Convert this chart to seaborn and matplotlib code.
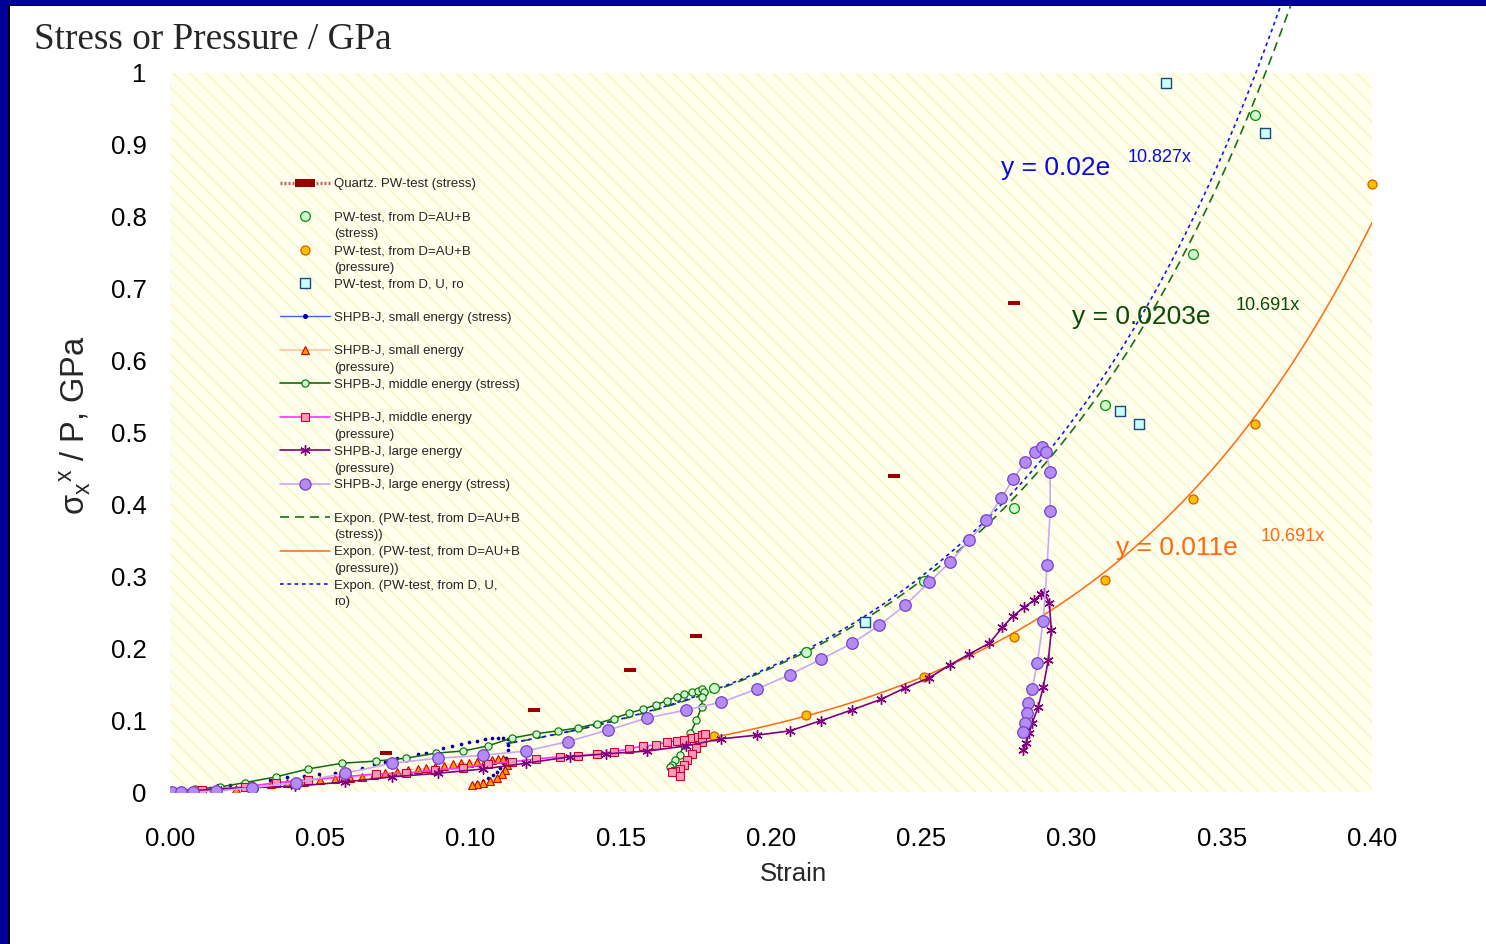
import numpy as np
import matplotlib
matplotlib.use("Agg")
import matplotlib.pyplot as plt
from matplotlib.lines import Line2D
from matplotlib.patches import Rectangle
import seaborn as sns

# ---------------- data ----------------
quartz_x = [0.072, 0.121, 0.153, 0.175, 0.241, 0.281]
quartz_y = [0.054, 0.114, 0.170, 0.217, 0.440, 0.680]

pw_x = [0.181, 0.2115, 0.251, 0.281, 0.311, 0.3405, 0.361]
pw_stress = [0.145, 0.195, 0.293, 0.395, 0.538, 0.748, 0.942]
pwp_x = [0.181, 0.2115, 0.251, 0.281, 0.311, 0.3405, 0.361, 0.400]
pw_pressure = [0.078, 0.107, 0.160, 0.216, 0.295, 0.407, 0.512, 0.846]

duro_x = [0.2314, 0.3162, 0.3225, 0.3315, 0.3644]
duro_y = [0.236, 0.530, 0.512, 0.986, 0.917]

small_stress_x = [0.0007, 0.0066, 0.0133, 0.0199, 0.0273, 0.0332, 0.0389, 0.0446, 0.0495, 0.0549,
                  0.0595, 0.0638, 0.0678, 0.0715, 0.0755, 0.0788, 0.0825, 0.0851, 0.0881, 0.0908,
                  0.0938, 0.0968, 0.0994, 0.1021, 0.1048, 0.1071, 0.1091, 0.1107, 0.1124, 0.1124,
                  0.1124, 0.1117, 0.1107, 0.1097, 0.1087, 0.1074, 0.1057, 0.1041, 0.1024, 0.1011]
small_stress_y = [0.000, 0.003, 0.006, 0.010, 0.013, 0.017, 0.021, 0.022, 0.025, 0.026,
                  0.029, 0.033, 0.039, 0.042, 0.047, 0.050, 0.053, 0.054, 0.057, 0.061,
                  0.064, 0.067, 0.070, 0.071, 0.074, 0.075, 0.075, 0.075, 0.074, 0.065,
                  0.058, 0.047, 0.040, 0.033, 0.028, 0.024, 0.019, 0.015, 0.013, 0.010]

small_press_x = [0.0100, 0.0160, 0.0219, 0.0279, 0.0336, 0.0389, 0.0446, 0.0499, 0.0549, 0.0599,
                 0.0638, 0.0678, 0.0715, 0.0755, 0.0791, 0.0825, 0.0851, 0.0881, 0.0911, 0.0941,
                 0.0968, 0.0994, 0.1021, 0.1047, 0.1071, 0.1091, 0.1107, 0.1121, 0.1121, 0.1114,
                 0.1104, 0.1087, 0.1064, 0.1041, 0.1021, 0.1004]
small_press_y = [0.001, 0.003, 0.004, 0.008, 0.011, 0.013, 0.014, 0.017, 0.018, 0.019,
                 0.021, 0.024, 0.026, 0.028, 0.031, 0.032, 0.033, 0.035, 0.036, 0.039,
                 0.040, 0.040, 0.042, 0.043, 0.045, 0.046, 0.046, 0.042, 0.038, 0.031,
                 0.025, 0.019, 0.015, 0.013, 0.011, 0.010]

mid_stress_x = [0.0007, 0.0083, 0.0166, 0.0249, 0.0352, 0.0459, 0.0572, 0.0685, 0.0785, 0.0884,
                0.0974, 0.1057, 0.1137, 0.1217, 0.1290, 0.1357, 0.1420, 0.1476, 0.1529, 0.1573,
                0.1616, 0.1653, 0.1686, 0.1712, 0.1736, 0.1756, 0.1769, 0.1776, 0.1772, 0.1769,
                0.1752, 0.1732, 0.1709, 0.1696, 0.1682, 0.1669, 0.1663]
mid_stress_y = [0.000, 0.004, 0.007, 0.013, 0.021, 0.032, 0.040, 0.043, 0.047, 0.054,
                0.057, 0.064, 0.075, 0.081, 0.085, 0.089, 0.095, 0.102, 0.110, 0.115,
                0.121, 0.127, 0.132, 0.136, 0.139, 0.140, 0.143, 0.139, 0.132, 0.118,
                0.100, 0.082, 0.065, 0.051, 0.045, 0.038, 0.035]

mid_press_x = [0.0007, 0.0106, 0.0249, 0.0352, 0.0459, 0.0575, 0.0685, 0.0785, 0.0881, 0.0974,
               0.1057, 0.1137, 0.1217, 0.1297, 0.1357, 0.1420, 0.1476, 0.1529, 0.1573, 0.1616,
               0.1653, 0.1686, 0.1712, 0.1736, 0.1756, 0.1769, 0.1779, 0.1769, 0.1752, 0.1736,
               0.1722, 0.1709, 0.1696, 0.1682, 0.1669, 0.1696]
mid_press_y = [0.000, 0.003, 0.007, 0.013, 0.017, 0.021, 0.025, 0.026, 0.031, 0.033,
               0.039, 0.042, 0.046, 0.049, 0.050, 0.053, 0.056, 0.060, 0.064, 0.065,
               0.070, 0.071, 0.072, 0.075, 0.076, 0.079, 0.081, 0.070, 0.061, 0.053,
               0.045, 0.038, 0.032, 0.029, 0.028, 0.022]

large_press_x = [0.0007, 0.0156, 0.0273, 0.0416, 0.0582, 0.0738, 0.0891, 0.1041, 0.1184, 0.1330,
                 0.1450, 0.1589, 0.1716, 0.1835, 0.1952, 0.2062, 0.2165, 0.2268, 0.2367, 0.2447,
                 0.2527, 0.2597, 0.2660, 0.2727, 0.2770, 0.2806, 0.2843, 0.2876, 0.2899, 0.2909,
                 0.2926, 0.2933, 0.2923, 0.2906, 0.2889, 0.2869, 0.2859, 0.2849, 0.2839]
large_press_y = [0.000, 0.004, 0.006, 0.008, 0.014, 0.021, 0.026, 0.032, 0.040, 0.049,
                 0.053, 0.057, 0.064, 0.074, 0.079, 0.085, 0.099, 0.114, 0.129, 0.145,
                 0.159, 0.177, 0.192, 0.207, 0.229, 0.245, 0.257, 0.267, 0.275, 0.277,
                 0.263, 0.225, 0.184, 0.146, 0.118, 0.096, 0.082, 0.068, 0.058]

large_stress_x = [0.0007, 0.0037, 0.0076, 0.0153, 0.0273, 0.0419, 0.0582, 0.0738, 0.0891, 0.1041,
                  0.1184, 0.1323, 0.1456, 0.1589, 0.1716, 0.1835, 0.1952, 0.2062, 0.2168, 0.2271,
                  0.2361, 0.2447, 0.2527, 0.2597, 0.2660, 0.2717, 0.2766, 0.2806, 0.2846, 0.2879,
                  0.2903, 0.2916, 0.2929, 0.2929, 0.2919, 0.2906, 0.2886, 0.2869, 0.2856, 0.2853,
                  0.2846, 0.2839]
large_stress_y = [0.000, 0.000, 0.000, 0.001, 0.006, 0.013, 0.026, 0.040, 0.047, 0.051,
                  0.057, 0.070, 0.086, 0.103, 0.114, 0.125, 0.143, 0.163, 0.185, 0.207,
                  0.232, 0.260, 0.292, 0.320, 0.350, 0.378, 0.409, 0.435, 0.459, 0.473,
                  0.480, 0.473, 0.445, 0.391, 0.316, 0.238, 0.179, 0.143, 0.124, 0.110,
                  0.096, 0.083]

# exponential trend lines  y = a * exp(b x)
fit_stress = (0.0203, 10.691)
fit_pressure = (0.011, 10.691)
fit_duro = (0.02, 10.827)

x_ticks = [0.00, 0.05, 0.10, 0.15, 0.20, 0.25, 0.30, 0.35, 0.40]
x_tick_labels = ["0.00", "0.05", "0.10", "0.15", "0.20", "0.25", "0.30", "0.35", "0.40"]
y_ticks = [0.0, 0.1, 0.2, 0.3, 0.4, 0.5, 0.6, 0.7, 0.8, 0.9, 1.0]
y_tick_labels = ["0", "0.1", "0.2", "0.3", "0.4", "0.5", "0.6", "0.7", "0.8", "0.9", "1"]

# ---------------- style ----------------
sns.set_theme(style="white")
plt.rcParams["font.family"] = ["Liberation Sans", "DejaVu Sans"]
plt.rcParams["mathtext.fontset"] = "custom"
plt.rcParams["mathtext.rm"] = "Liberation Sans"
plt.rcParams["mathtext.it"] = "Liberation Sans"
plt.rcParams["hatch.linewidth"] = 1.0

W, H = 1486, 944
fig = plt.figure(figsize=(W / 100, H / 100), dpi=100)
fig.patch.set_facecolor("white")
ax = fig.add_axes([170 / W, 1 - 792 / H, 1202 / W, 719 / H])
ax.set_facecolor("#ffffee")
ax.add_patch(Rectangle((0, 0), 1, 1, transform=ax.transAxes, fill=False,
                       hatch="\\\\", edgecolor="#f6f3c4", lw=0, zorder=0))
for s in ax.spines.values():
    s.set_visible(False)

# trend lines (extend past the plotting area, as the curves run off the top)
def fit_curve(params, x0, x1):
    a, b = params
    xs = np.linspace(x0, x1, 300)
    return xs, a * np.exp(b * xs)

top_val = 1.10
xs, ys = fit_curve(fit_stress, 0.112, np.log(top_val / fit_stress[0]) / fit_stress[1])
sns.lineplot(x=xs, y=ys, ax=ax, estimator=None, sort=False, color="#1a6e1a", lw=1.2,
             linestyle=(0, (5.5, 3.5)), legend=False, zorder=2).lines[-1].set_clip_on(False)
xs, ys = fit_curve(fit_duro, 0.112, np.log(top_val / fit_duro[0]) / fit_duro[1])
sns.lineplot(x=xs, y=ys, ax=ax, estimator=None, sort=False, color="#1515ee", lw=1.2,
             linestyle=(0, (2.2, 2.2)), legend=False, zorder=2).lines[-1].set_clip_on(False)
xs, ys = fit_curve(fit_pressure, 0.181, 0.40)
sns.lineplot(x=xs, y=ys, ax=ax, estimator=None, sort=False, color="#ff6a10", lw=1.1,
             legend=False, zorder=2)

# quartz plate-wave points
quartz_marker = [(-1, -0.34), (1, -0.34), (1, 0.34), (-1, 0.34)]
sns.scatterplot(x=quartz_x, y=quartz_y, ax=ax, marker=quartz_marker, s=85,
                color="#990000", edgecolor="#990000", linewidth=0, legend=False, zorder=3)

# PW-test points
sns.scatterplot(x=pw_x, y=pw_stress, ax=ax, marker="o", s=50, color="#ccffcc",
                edgecolor="#0a8a0a", linewidth=0.9, legend=False, zorder=3)
sns.scatterplot(x=pwp_x, y=pw_pressure, ax=ax, marker="o", s=42, color="#ffc000",
                edgecolor="#d06000", linewidth=0.9, legend=False, zorder=3, clip_on=False)
sns.scatterplot(x=duro_x, y=duro_y, ax=ax, marker="s", s=62, color="#ccffff",
                edgecolor="#1a4a7a", linewidth=1.0, legend=False, zorder=3)

# SHPB-J series
sns.scatterplot(x=small_stress_x, y=small_stress_y, ax=ax, marker="o", s=7,
                color="#000099", edgecolor="#000099", linewidth=0, legend=False, zorder=4)
sns.lineplot(x=small_press_x, y=small_press_y, ax=ax, estimator=None, sort=False,
             color="#ffd0a8", lw=1.0, marker="^", markersize=6, markerfacecolor="#ff9900",
             markeredgecolor="#cc0000", markeredgewidth=0.8, legend=False, zorder=4)
sns.lineplot(x=mid_stress_x, y=mid_stress_y, ax=ax, estimator=None, sort=False,
             color="#0f6a0f", lw=1.1, marker="o", markersize=5.2, markerfacecolor="#ccffcc",
             markeredgecolor="#0a6a0a", markeredgewidth=0.8, legend=False, zorder=5)
sns.lineplot(x=mid_press_x, y=mid_press_y, ax=ax, estimator=None, sort=False,
             color="#ff33ff", lw=1.2, marker="s", markersize=5.6, markerfacecolor="#ff99bb",
             markeredgecolor="#cc0033", markeredgewidth=0.8, legend=False, zorder=5)
sns.lineplot(x=large_press_x, y=large_press_y, ax=ax, estimator=None, sort=False,
             color="#800080", lw=1.2, marker=(6, 2, 0), markersize=7.5,
             markerfacecolor="#800080", markeredgecolor="#800080", markeredgewidth=1.0,
             legend=False, zorder=6)
sns.lineplot(x=large_stress_x, y=large_stress_y, ax=ax, estimator=None, sort=False,
             color="#c9a8f5", lw=1.2, marker="o", markersize=8.3, markerfacecolor="#b38df5",
             markeredgecolor="#7a3fc9", markeredgewidth=0.9, legend=False, zorder=7)

# equation labels
eq_specs = [
    ("y = 0.02e", "10.827x", "#0a0ae0", (0.2767, 0.868), (0.3186, 0.882)),
    ("y = 0.0203e", "10.691x", "#0a4a0a", (0.3002, 0.661), (0.3545, 0.676)),
    ("y = 0.011e", "10.691x", "#ff6a10", (0.3149, 0.339), (0.3628, 0.355)),
]
for main, sup, col, p_main, p_sup in eq_specs:
    ax.text(p_main[0], p_main[1], main, color=col, fontsize=19, ha="left", va="center", zorder=8)
    ax.text(p_sup[0], p_sup[1], sup, color=col, fontsize=13, ha="left", va="center", zorder=8)

# axes
ax.set_xlim(0, 0.40)
ax.set_ylim(0, 1)
ax.set_xticks(x_ticks)
ax.set_xticklabels(x_tick_labels)
ax.set_yticks(y_ticks)
ax.set_yticklabels(y_tick_labels)
ax.tick_params(axis="both", length=0, labelsize=18.5, colors="black")
ax.tick_params(axis="x", pad=25)
ax.tick_params(axis="y", pad=17)
ax.set_xlabel("Strain", fontsize=18.5)
ax.xaxis.set_label_coords(0.519, -0.097)
ax.set_ylabel("σ$_{x}{}^{x}$ / P, GPa", fontsize=23.5)
ax.yaxis.set_label_coords(-0.064, 0.51)
ax.grid(False)

fig.text(34 / W, 1 - 40 / H, "Stress or Pressure / GPa", family="Liberation Serif",
         fontsize=26.8, ha="left", va="center")

# legend
blank = Line2D([], [], linestyle="none")
h_quartz = Line2D([], [], color="#c86464", lw=2.4, linestyle=(0, (0.6, 0.6)),
                  marker=quartz_marker, markersize=15, markerfacecolor="#990000",
                  markeredgecolor="#990000", markeredgewidth=0)
h_pws = Line2D([], [], linestyle="none", marker="o", markersize=7, markerfacecolor="#ccffcc",
               markeredgecolor="#0a8a0a", markeredgewidth=0.9)
h_pwp = Line2D([], [], linestyle="none", marker="o", markersize=6.5, markerfacecolor="#ffc000",
               markeredgecolor="#d06000", markeredgewidth=0.9)
h_duro = Line2D([], [], linestyle="none", marker="s", markersize=7.5, markerfacecolor="#ccffff",
                markeredgecolor="#1a4a7a", markeredgewidth=1.0)
h_ss = Line2D([], [], color="#3366ff", lw=1.0, marker="o", markersize=2.6,
              markerfacecolor="#000099", markeredgecolor="#000099")
h_sp = Line2D([], [], color="#ffd0a8", lw=1.5, marker="^", markersize=6, markerfacecolor="#ff9900",
              markeredgecolor="#cc0000", markeredgewidth=0.8)
h_ms = Line2D([], [], color="#0f6a0f", lw=1.2, marker="o", markersize=5.2,
              markerfacecolor="#ccffcc", markeredgecolor="#0a6a0a", markeredgewidth=0.8)
h_mp = Line2D([], [], color="#ff33ff", lw=1.2, marker="s", markersize=5.6,
              markerfacecolor="#ff99bb", markeredgecolor="#cc0033", markeredgewidth=0.8)
h_lp = Line2D([], [], color="#800080", lw=1.2, marker=(6, 2, 0), markersize=7.5,
              markeredgecolor="#800080", markeredgewidth=1.0)
h_ls = Line2D([], [], color="#c9a8f5", lw=1.2, marker="o", markersize=8,
              markerfacecolor="#b38df5", markeredgecolor="#7a3fc9", markeredgewidth=0.9)
h_es = Line2D([], [], color="#1a6e1a", lw=1.2, linestyle=(0, (5.5, 3.5)))
h_ep = Line2D([], [], color="#ff6a10", lw=1.1)
h_ed = Line2D([], [], color="#1515ee", lw=1.2, linestyle=(0, (2.2, 2.2)))

entries = [
    (h_quartz, "Quartz. PW-test (stress)"), (blank, " "),
    (h_pws, "PW-test, from D=AU+B"), (blank, "(stress)"),
    (h_pwp, "PW-test, from D=AU+B"), (blank, "(pressure)"),
    (h_duro, "PW-test, from D, U, ro"), (blank, " "),
    (h_ss, "SHPB-J, small energy (stress)"), (blank, " "),
    (h_sp, "SHPB-J, small energy"), (blank, "(pressure)"),
    (h_ms, "SHPB-J, middle energy (stress)"), (blank, " "),
    (h_mp, "SHPB-J, middle energy"), (blank, "(pressure)"),
    (h_lp, "SHPB-J, large energy"), (blank, "(pressure)"),
    (h_ls, "SHPB-J, large energy (stress)"), (blank, " "),
    (h_es, "Expon. (PW-test, from D=AU+B"), (blank, "(stress))"),
    (h_ep, "Expon. (PW-test, from D=AU+B"), (blank, "(pressure))"),
    (h_ed, "Expon. (PW-test, from D, U,"), (blank, "ro)"),
]
leg = ax.legend([e[0] for e in entries], [e[1] for e in entries], loc="upper left",
                bbox_to_anchor=(280 / W, 1 - 178 / H), bbox_transform=fig.transFigure,
                frameon=False, fontsize=9.5, handlelength=3.8, handletextpad=0.3,
                labelspacing=0.34, borderpad=0, borderaxespad=0, numpoints=1)
leg.set_zorder(9)

# window frame
navy = "#000099"
fig.add_artist(Rectangle((0, 0), 8 / W, 1, transform=fig.transFigure, color=navy, zorder=20, lw=0))
fig.add_artist(Rectangle((8 / W, 0), 2 / W, 1 - 4.5 / H, transform=fig.transFigure,
                         color="black", zorder=20, lw=0))
fig.add_artist(Rectangle((0, 1 - 4.5 / H), 1, 4.5 / H, transform=fig.transFigure, color=navy,
                         zorder=20, lw=0))
fig.add_artist(Rectangle((8 / W, 1 - 6 / H), 1, 1.5 / H, transform=fig.transFigure,
                         color="black", zorder=20, lw=0))

fig.savefig("out.png", dpi=100)
